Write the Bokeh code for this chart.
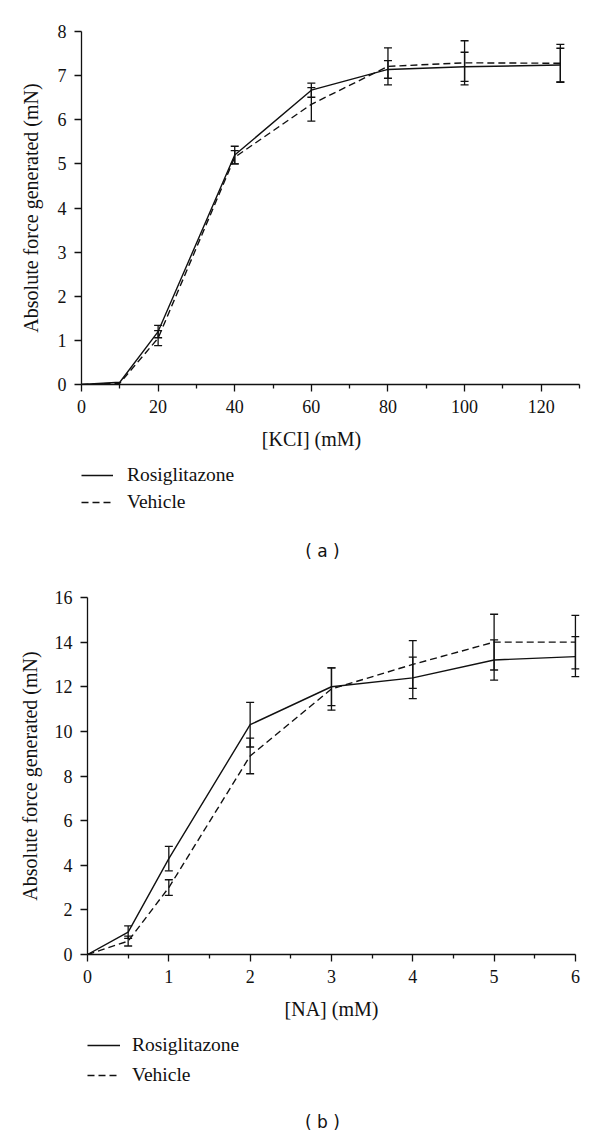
from bokeh.plotting import figure
from bokeh.layouts import column
from bokeh.models import (ColumnDataSource, Whisker, TeeHead, Legend, LegendItem,
                          Label, FixedTicker, Range1d)
from bokeh.embed import file_html
from bokeh.resources import INLINE

# ---------------- data: panel (a) ----------------
kcl_mM = [0, 10, 20, 40, 60, 80, 100, 125]
rosi_kcl = [0.0, 0.05, 1.20, 5.20, 6.67, 7.14, 7.20, 7.24]
rosi_kcl_err = [0.0, 0.0, 0.14, 0.20, 0.16, 0.20, 0.33, 0.38]
veh_kcl = [0.0, 0.03, 1.05, 5.15, 6.35, 7.21, 7.29, 7.28]
veh_kcl_err = [0.0, 0.0, 0.17, 0.15, 0.38, 0.42, 0.50, 0.43]
kcl_ticks = [0, 20, 40, 60, 80, 100, 120]
kcl_minor = [10, 30, 50, 70, 90, 110, 130]
force_a_ticks = [0, 1, 2, 3, 4, 5, 6, 7, 8]

# ---------------- data: panel (b) ----------------
na_mM = [0, 0.5, 1, 2, 3, 4, 5, 6]
rosi_na = [0.0, 1.0, 4.3, 10.3, 12.0, 12.4, 13.2, 13.35]
rosi_na_err = [0.0, 0.28, 0.55, 1.0, 0.85, 0.93, 0.9, 0.9]
veh_na = [0.0, 0.6, 3.0, 8.9, 11.9, 13.0, 14.0, 14.0]
veh_na_err = [0.0, 0.22, 0.35, 0.8, 0.95, 1.07, 1.25, 1.2]
na_ticks = [0, 1, 2, 3, 4, 5, 6]
na_minor = [0.5, 1.5, 2.5, 3.5, 4.5, 5.5]
force_b_ticks = [0, 2, 4, 6, 8, 10, 12, 14, 16]

series_names = ["Rosiglitazone", "Vehicle"]
y_title = "Absolute force generated (mN)"

INK = "#111111"
SERIF = "Liberation Serif"
SANS = "DejaVu Sans"
DASH = "7 4"
W = 600
NAN = float("nan")


def err_source(x, y, e):
    xs, lo, hi = [], [], []
    for xi, yi, ei in zip(x, y, e):
        if ei > 0:
            xs.append(xi)
            lo.append(yi - ei)
            hi.append(yi + ei)
    return ColumnDataSource(dict(x=xs, lower=lo, upper=hi))


def style_fig(p):
    p.xgrid.visible = False
    p.ygrid.visible = False
    p.outline_line_color = None
    p.background_fill_color = "white"
    p.border_fill_color = "white"


def make_plot(x, r, r_err, v, v_err, xr, xbounds, yr, xt, xm, yt, H, top, bottom,
              left, right, ytitle_standoff):
    p = figure(width=W, height=H, x_range=Range1d(*xr), y_range=Range1d(*yr),
               output_backend="svg", toolbar_location=None,
               min_border_left=left, min_border_right=right,
               min_border_top=top, min_border_bottom=bottom)
    style_fig(p)

    p.line(x, r, line_color=INK, line_width=1.4)
    p.line(x, v, line_color=INK, line_width=1.4, line_dash=DASH)

    for src in (err_source(x, r, r_err), err_source(x, v, v_err)):
        w = Whisker(source=src, base="x", lower="lower", upper="upper",
                    line_color=INK, line_width=1.3, level="glyph",
                    upper_head=TeeHead(size=8, line_color=INK, line_width=1.3),
                    lower_head=TeeHead(size=8, line_color=INK, line_width=1.3))
        p.add_layout(w)

    xa = p.xaxis[0]
    xa.ticker = FixedTicker(ticks=xt, minor_ticks=xm)
    xa.bounds = xbounds
    ya = p.yaxis[0]
    ya.ticker = FixedTicker(ticks=yt, minor_ticks=[])
    for ax in (xa, ya):
        ax.axis_line_color = INK
        ax.axis_line_width = 1.3
        ax.major_tick_line_color = INK
        ax.major_tick_line_width = 1.3
        ax.minor_tick_line_color = INK
        ax.minor_tick_line_width = 1.3
        ax.major_tick_in = 0
        ax.major_tick_out = 7
        ax.minor_tick_in = 0
        ax.minor_tick_out = 4
        ax.major_label_text_font = SERIF
        ax.major_label_text_font_size = "18px"
        ax.major_label_text_color = INK
        ax.major_label_standoff = 8
        ax.axis_label_text_font = SERIF
        ax.axis_label_text_font_size = "20px"
        ax.axis_label_text_font_style = "normal"
        ax.axis_label_text_color = INK
    ya.axis_label = y_title
    ya.axis_label_standoff = ytitle_standoff
    return p


def make_footer(H, left, right, xlabel, xlabel_pos, leg_loc, leg_spacing,
                leg_glyph_w, leg_standoff, caption, cap_pos):
    # x data == page pixel column, y data == pixel row from the footer's top
    f = figure(width=W, height=H, x_range=Range1d(left, W - right),
               y_range=Range1d(H, 0), output_backend="svg", toolbar_location=None,
               x_axis_type=None, y_axis_type=None,
               min_border_left=left, min_border_right=right,
               min_border_top=0, min_border_bottom=0)
    style_fig(f)

    # legend sample renderers (a single NaN point: nothing drawn in the frame)
    s1 = f.line(x=[NAN], y=[NAN], line_color=INK, line_width=1.4)
    s2 = f.line(x=[NAN], y=[NAN], line_color=INK, line_width=1.4, line_dash=DASH)

    f.add_layout(Label(x=xlabel_pos[0], y=xlabel_pos[1], text=xlabel,
                       text_align="center", text_baseline="middle",
                       text_font=SERIF, text_font_size="20px", text_color=INK))

    leg = Legend(items=[LegendItem(label=series_names[0], renderers=[s1]),
                        LegendItem(label=series_names[1], renderers=[s2])],
                 location=leg_loc)
    leg.border_line_color = None
    leg.background_fill_alpha = 0
    leg.padding = 0
    leg.margin = 0
    leg.spacing = leg_spacing
    leg.glyph_width = leg_glyph_w
    leg.glyph_height = 20
    leg.label_height = 20
    leg.label_standoff = leg_standoff
    leg.label_text_font = SERIF
    leg.label_text_font_size = "19.5px"
    leg.label_text_color = INK
    f.add_layout(leg)

    f.add_layout(Label(x=cap_pos[0], y=cap_pos[1], text=caption,
                       text_align="center", text_baseline="middle",
                       text_font=SANS, text_font_size="17px", text_color=INK))
    return f


pa = make_plot(kcl_mM, rosi_kcl, rosi_kcl_err, veh_kcl, veh_kcl_err,
               (0, 130), (0, 130), (0, 8), kcl_ticks, kcl_minor, force_a_ticks,
               H=424, top=31, bottom=40, left=81, right=21, ytitle_standoff=13)
fa = make_footer(153, 81, 21, "[KCI] (mM)", (311, 14), (0, 64), 5, 32, 14,
                 "( a )", (322, 126))

pb = make_plot(na_mM, rosi_na, rosi_na_err, veh_na, veh_na_err,
               (0, 6.05), (0, 6), (0, 16), na_ticks, na_minor, force_b_ticks,
               H=417, top=20, bottom=40, left=87, right=21, ytitle_standoff=11)
fb = make_footer(143, 87, 21, "[NA] (mM)", (331, 14), (0, 51), 8, 33, 12,
                 "( b )", (322, 127))

col_a = column(pa, fa, spacing=0)
col_b = column(pb, fb, spacing=0)
open("out.html", "w").write(file_html([col_a, col_b], INLINE))
